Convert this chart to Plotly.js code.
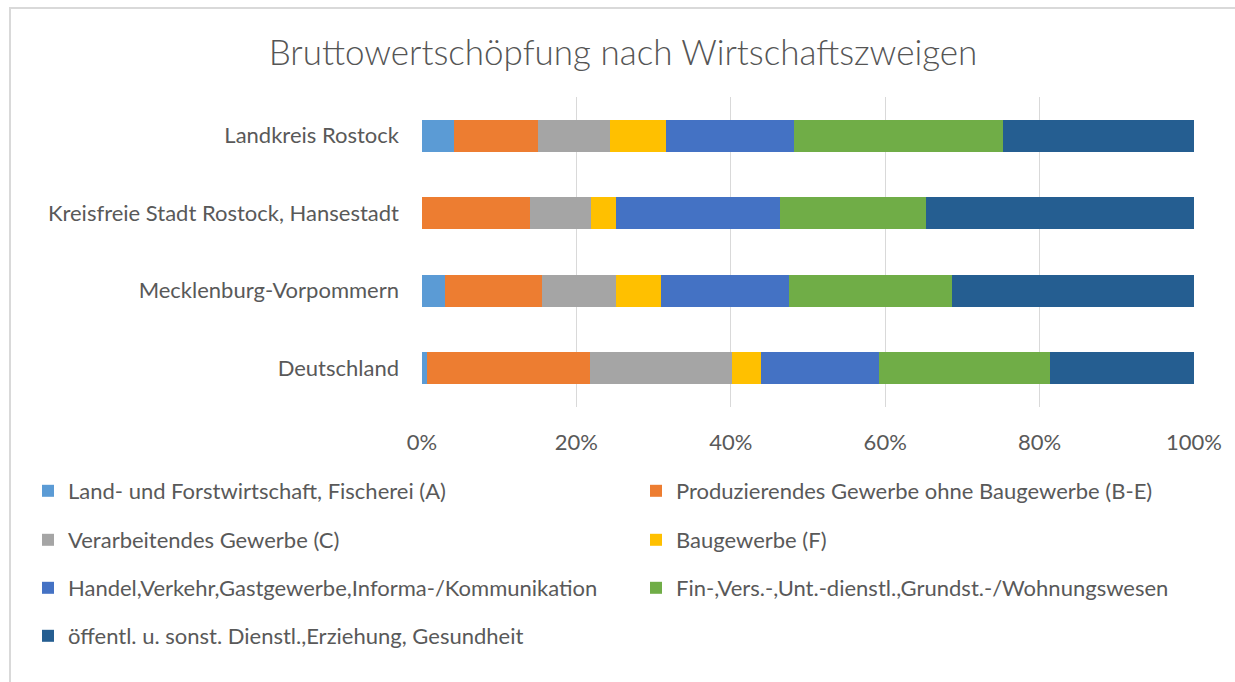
<!DOCTYPE html>
<html>
<head>
<meta charset="utf-8">
<script src="https://cdn.plot.ly/plotly-3.0.1.min.js"></script>
<style>
  html, body { margin: 0; padding: 0; background: #ffffff; }
  #wrap { position: relative; width: 1235px; height: 682px; overflow: hidden; }
  #chart { position: absolute; left: 0; top: 0; width: 1235px; height: 682px; }
  #frame { position: absolute; left: 9px; top: 7px; width: 1300px; height: 700px;
           border-top: 2px solid #d9d9d9; border-left: 2px solid #d9d9d9; pointer-events: none; }
</style>
</head>
<body>
<div id="wrap"><div id="chart"></div><div id="frame"></div></div>
<script>
const categories = [
  "Landkreis Rostock",
  "Kreisfreie Stadt Rostock, Hansestadt",
  "Mecklenburg-Vorpommern",
  "Deutschland"
];
const seriesNames = [
  "Land- und Forstwirtschaft, Fischerei (A)",
  "Produzierendes Gewerbe ohne Baugewerbe (B-E)",
  "Verarbeitendes Gewerbe (C)",
  "Baugewerbe (F)",
  "Handel,Verkehr,Gastgewerbe,Informa-/Kommunikation",
  "Fin-,Vers.-,Unt.-dienstl.,Grundst.-/Wohnungswesen",
  "öffentl. u. sonst. Dienstl.,Erziehung, Gesundheit"
];
// shares in percent, order of categories
const landForst      = [4.1, 0.0, 3.0, 0.7];
const produzierendes = [10.9, 14.0, 12.6, 21.1];
const verarbeitendes = [9.3, 7.9, 9.5, 18.3];
const baugewerbe     = [7.3, 3.2, 5.8, 3.8];
const handel         = [16.6, 21.3, 16.7, 15.3];
const finanz         = [27.1, 18.9, 21.1, 22.2];
const oeffentlich    = [24.7, 34.7, 31.3, 18.6];
const tickValues = [0, 0.2, 0.4, 0.6, 0.8, 1.0];
const tickLabels = ["0%", "20%", "40%", "60%", "80%", "100%"];

const seriesValues = [landForst, produzierendes, verarbeitendes, baugewerbe, handel, finanz, oeffentlich];
const colors = ["#5B9BD5", "#ED7D31", "#A5A5A5", "#FFC000", "#4472C4", "#70AD47", "#255E91"];

const FONT = "Lato, 'Open Sans', sans-serif";
const TXT = "#595959";

const legendIds = ["legend", "legend2", "legend3", "legend4", "legend5", "legend6", "legend7"];
const traces = seriesValues.map((vals, i) => ({
  type: "bar",
  orientation: "h",
  name: seriesNames[i],
  y: categories,
  x: vals.map(v => v / 100),
  marker: { color: colors[i], line: { width: 0 } },
  legend: legendIds[i],
  hoverinfo: "name+x"
}));

// legend placement: two columns, four rows
const colX = [28, 636];
const rowY = [491, 540, 588, 636];
const W = 1235, H = 682;
const layout = {
  width: W, height: H,
  paper_bgcolor: "#ffffff",
  plot_bgcolor: "#ffffff",
  barmode: "stack",
  bargap: 0.59,
  margin: { l: 422, r: 41, t: 97, b: 275, pad: 0 },
  title: {
    text: "Bruttowertschöpfung nach Wirtschaftszweigen",
    font: { family: FONT, size: 35, color: "#555555", weight: 300 },
    xref: "container", x: 623 / W, xanchor: "center",
    yref: "container", y: 1 - 53 / H, yanchor: "middle"
  },
  xaxis: {
    range: [0, 1],
    tickvals: tickValues,
    ticktext: tickLabels,
    showgrid: true, gridcolor: "#d9d9d9", gridwidth: 1,
    zeroline: false, showline: false, ticks: "",
    ticklabelstandoff: 20,
    tickfont: { family: FONT, size: 22, color: TXT },
    fixedrange: true
  },
  yaxis: {
    type: "category",
    categoryorder: "array",
    categoryarray: categories,
    autorange: "reversed",
    showgrid: false, zeroline: false, showline: false, ticks: "",
    ticklabelstandoff: 22,
    tickfont: { family: FONT, size: 22, color: TXT },
    fixedrange: true
  },
  showlegend: true
};
const legendPos = [[0,0],[1,0],[0,1],[1,1],[0,2],[1,2],[0,3]];
legendIds.forEach((id, i) => {
  const [c, r] = legendPos[i];
  layout[id] = {
    xref: "container", yref: "container",
    x: colX[c] / W, y: 1 - rowY[r] / H,
    xanchor: "left", yanchor: "middle",
    orientation: "h",
    bgcolor: "rgba(0,0,0,0)", borderwidth: 0,
    font: { family: FONT, size: 22, color: TXT }
  };
});

Plotly.newPlot("chart", traces, layout, { displayModeBar: false, staticPlot: true });
</script>
</body>
</html>
